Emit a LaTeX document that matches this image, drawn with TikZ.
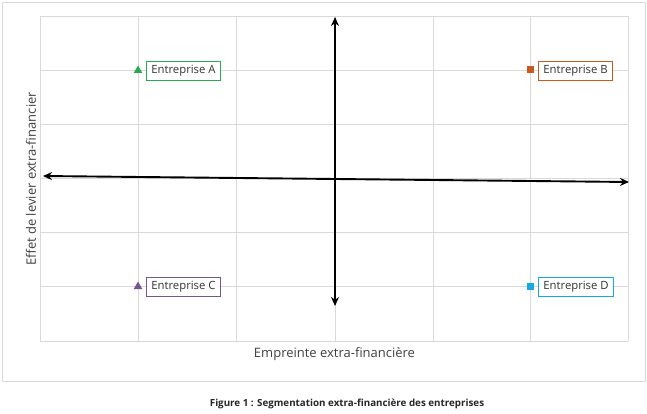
\documentclass[tikz,border=0pt]{standalone}
\usepackage{fontspec}
\setmainfont{Open Sans}
\usetikzlibrary{arrows.meta,shapes.geometric}
\definecolor{gridc}{RGB}{217,217,217}
\definecolor{frc}{RGB}{217,217,217}
\definecolor{cA}{RGB}{40,170,80}
\definecolor{cB}{RGB}{200,90,30}
\definecolor{cC}{RGB}{120,85,140}
\definecolor{cD}{RGB}{20,170,230}
\tikzset{
  lbl/.style={draw=#1, fill=white, line width=0.8pt, inner xsep=5pt, inner ysep=2pt, font=\fontsize{11.3}{13}\selectfont, text=black!80, anchor=west, minimum height=19pt},
  tri/.style={regular polygon, regular polygon sides=3, fill=#1, inner sep=0pt, minimum size=10pt},
  sq/.style={rectangle, fill=#1, inner sep=0pt, minimum size=7pt},
  axarrow/.style={line width=1.9pt, {Stealth[length=9pt,width=8pt]}-{Stealth[length=9pt,width=8pt]}},
  axlabel/.style={font=\fontsize{13}{15}\selectfont, text=black!75}
}
\begin{document}
\begin{tikzpicture}[x=1pt,y=-1pt]
\useasboundingbox (0,0) rectangle (647,414);
\draw[frc, line width=0.8pt] (2,2) rectangle (645,381);
\foreach \x in {40,138,236,335,433,530,628} \draw[gridc, line width=0.7pt] (\x,16) -- (\x,341);
\foreach \y in {16,70,124,178,232,286,341} \draw[gridc, line width=0.7pt] (40,\y) -- (628,\y);
\coordinate (top) at (335,17);
\coordinate (bot) at (335,306);
\coordinate (lft) at (43,176);
\coordinate (rgt) at (629,182);
\draw[axarrow] (bot) -- (top);
\draw[axarrow] (lft) -- (rgt);
\node[tri=cA] (mA) at (138,70.5) {};
\node[sq=cB] (mB) at (530,70) {};
\node[tri=cC] (mC) at (138,286.5) {};
\node[sq=cD] (mD) at (530,286) {};
\node[lbl=cA] (A) at (146,71) {Entreprise A};
\node[lbl=cB] (B) at (538,71) {Entreprise B};
\node[lbl=cC] (C) at (146,287) {Entreprise C};
\node[lbl=cD] (D) at (538,287) {Entreprise D};
\node[axlabel] (xl) at (334.5,354) {Empreinte extra-financière};
\node[axlabel, rotate=90] (yl) at (31,179) {Effet de levier extra-financier};
\node[font=\bfseries\fontsize{9.8}{11}\selectfont, text=black!85] (cap) at (347,404) {Figure 1 : Segmentation extra-financière des entreprises};
\end{tikzpicture}
\end{document}
